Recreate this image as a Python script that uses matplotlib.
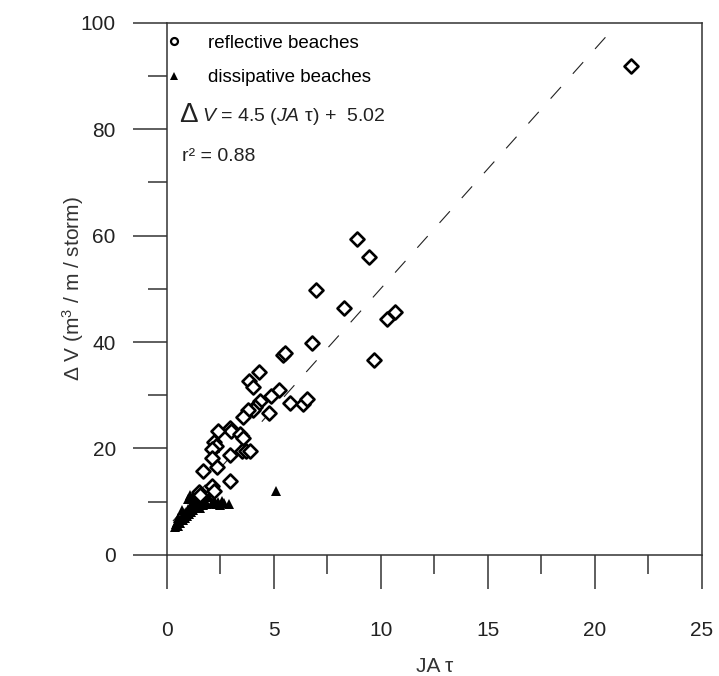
import matplotlib
matplotlib.use('Agg')
import matplotlib.pyplot as plt
from matplotlib.markers import MarkerStyle
from matplotlib.lines import Line2D
from matplotlib.ticker import MultipleLocator

plt.rcParams['font.family'] = ['Liberation Sans', 'DejaVu Sans']
plt.rcParams['mathtext.fontset'] = 'custom'
plt.rcParams['mathtext.rm'] = 'Liberation Sans'
plt.rcParams['mathtext.it'] = 'Liberation Sans:italic'

# reflective beaches (JA tau, dV)
refl_x = [21.7, 8.87, 9.45, 7.0, 8.28, 10.27, 10.68, 9.70, 6.77, 5.45, 5.55,
          5.27, 4.88, 5.78, 6.38, 6.55, 4.78, 4.30, 3.84, 4.05, 4.36, 4.15,
          4.02, 3.82, 3.57, 2.96, 3.03, 3.45, 3.55, 2.40, 2.23, 2.33, 2.12,
          3.52, 3.70, 3.88, 2.10, 2.96, 2.35, 1.71, 2.12, 2.20, 2.96, 1.52, 1.56]
refl_y = [91.8, 59.3, 56.0, 49.8, 46.4, 44.3, 45.7, 36.7, 39.9, 37.6, 38.0,
          31.0, 29.8, 28.6, 28.4, 29.3, 26.6, 34.4, 32.7, 31.6, 28.9, 27.7,
          27.3, 27.3, 26.0, 23.9, 23.2, 22.8, 22.0, 23.3, 21.3, 20.4, 19.9,
          19.5, 19.5, 19.5, 18.2, 18.7, 16.6, 15.8, 13.0, 12.1, 13.9, 11.9, 11.2]

# dissipative beaches
diss_x = [0.40, 0.45, 0.50, 0.55, 0.60, 0.65, 0.70, 0.75, 0.80, 0.85, 0.90,
          0.95, 1.00, 1.05, 1.10, 1.15, 1.20, 1.25, 1.30, 1.35, 1.40, 1.50,
          1.55, 1.60, 1.70, 1.80, 1.90, 2.00, 2.10, 2.20, 2.30, 2.40, 2.50,
          2.60, 2.70, 2.90, 1.00, 1.10, 1.25, 1.45, 0.55, 0.70, 2.25, 4.10, 5.10]
diss_y = [5.3, 5.8, 6.2, 5.5, 6.8, 6.0, 7.2, 6.5, 7.8, 7.0, 8.1,
          7.4, 8.6, 7.7, 9.0, 8.0, 9.6, 8.4, 10.2, 8.8, 9.2, 9.8,
          8.9, 10.5, 9.3, 10.0, 9.5, 10.8, 9.8, 10.3, 9.6, 10.0, 9.3,
          10.2, 9.8, 9.5, 10.5, 11.2, 11.0, 10.8, 7.0, 8.4, 20.0, 27.6, 12.0]

# regression dV = 4.5 JA tau + 5.02
slope = 4.5
intercept = 5.02
fit_x = [0.3, 20.6]
fit_y = [slope * v + intercept for v in fit_x]

fig = plt.figure(figsize=(7.19, 6.76), dpi=100)
ax = fig.add_axes([0.2316, 0.179, 0.7448, 0.7877])

ax.plot(fit_x, fit_y, color='#222222', lw=0.8, dashes=(14, 16))

diamond = MarkerStyle('D', joinstyle='round')
ax.plot(diss_x, diss_y, ls='none', marker='^', ms=7.5, color='black', mew=0)
ax.plot(refl_x, refl_y, ls='none', marker=diamond, ms=7, mfc='white',
        mec='black', mew=1.9)

ax.set_xlim(0, 25)
ax.set_ylim(0, 100)
ax.xaxis.set_major_locator(MultipleLocator(5))
ax.xaxis.set_minor_locator(MultipleLocator(2.5))
ax.yaxis.set_major_locator(MultipleLocator(20))
ax.yaxis.set_minor_locator(MultipleLocator(10))
for s in ax.spines.values():
    s.set_linewidth(1.1)
    s.set_color('#333333')
ax.tick_params(which='both', direction='out', colors='#333333', width=1.1,
               labelsize=15, labelcolor='#222222')
ax.tick_params(which='major', length=24.5)
ax.tick_params(which='minor', length=13.5)
ax.tick_params(axis='x', which='major', pad=23)
ax.tick_params(axis='y', which='major', pad=12)

ax.set_xlabel('JA τ', fontsize=15, color='#333333', labelpad=12)
ax.set_ylabel('Δ V (m$^3$ / m / storm)', fontsize=15,
              color='#333333', labelpad=-4)

handles = [
    Line2D([], [], ls='none', marker='o', ms=5, mfc='white', mec='black', mew=1.6),
    Line2D([], [], ls='none', marker='^', ms=5.5, color='black', mew=0),
]
ax.legend(handles, ['reflective beaches', 'dissipative beaches'],
          loc='upper left', bbox_to_anchor=(0, 0.977), frameon=False,
          fontsize=13.5, handlelength=0.75, handletextpad=1.44,
          borderaxespad=0.0, borderpad=0.0, labelspacing=0.92)

ax.text(0.024, 0.826, 'Δ', transform=ax.transAxes, fontsize=20,
        va='center', ha='left', color='#222222')
ax.text(0.067, 0.823, '$V$ = 4.5 ($J$$A$ τ) +  5.02', transform=ax.transAxes,
        fontsize=14, va='center', ha='left', color='#222222')
ax.text(0.028, 0.748, 'r² = 0.88', transform=ax.transAxes, fontsize=14,
        va='center', ha='left', color='#222222')

fig.savefig('out.png', dpi=100)
